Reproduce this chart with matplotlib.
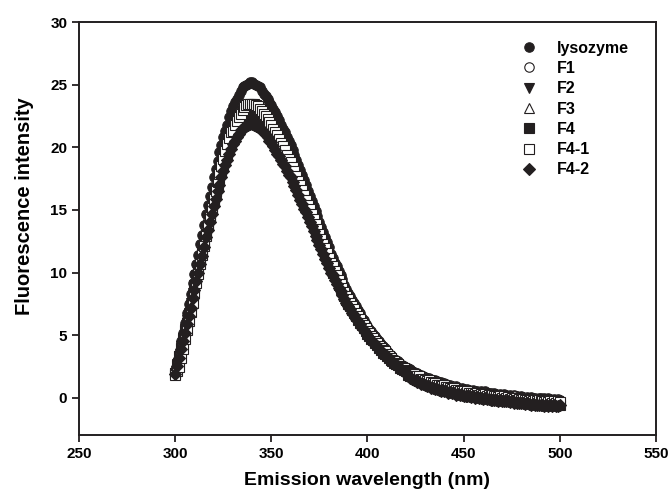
import numpy as np
import matplotlib.pyplot as plt

plt.rcParams['font.family'] = ['Liberation Sans', 'DejaVu Sans']
plt.rcParams['font.weight'] = 'bold'

# emission wavelength (nm), 1 nm steps from 300 to 500
wavelength = np.arange(300, 501)

lysozyme = [
    2.2, 2.9, 3.6, 4.5, 5.2, 6.0, 6.8, 7.5, 8.3, 9.2,
    9.9, 10.7, 11.4, 12.3, 13.0, 13.8, 14.7, 15.4, 16.1, 16.8,
    17.6, 18.3, 18.9, 19.6, 20.2, 20.8, 21.3, 21.8, 22.4, 22.9,
    23.3, 23.6, 23.9, 24.2, 24.5, 24.8, 24.9, 25.0, 25.1, 25.2,
    25.2, 25.1, 25.0, 24.9, 24.8, 24.5, 24.3, 24.1, 23.9, 23.6,
    23.4, 23.1, 22.8, 22.5, 22.2, 21.8, 21.5, 21.2, 20.8, 20.5,
    20.2, 19.8, 19.4, 19.0, 18.6, 18.2, 17.8, 17.4, 17.0, 16.5,
    16.1, 15.7, 15.3, 14.9, 14.5, 14.0, 13.6, 13.2, 12.8, 12.4,
    12.0, 11.5, 11.2, 10.8, 10.5, 10.1, 9.8, 9.5, 9.0, 8.7,
    8.4, 8.1, 7.8, 7.6, 7.3, 7.0, 6.8, 6.4, 6.2, 5.9,
    5.7, 5.5, 5.3, 5.1, 4.9, 4.7, 4.5, 4.3, 4.1, 4.0,
    3.7, 3.5, 3.4, 3.2, 3.1, 3.0, 2.9, 2.7, 2.6, 2.5, 2.4,
    2.35, 2.3, 2.15, 2.05, 2.0, 1.95, 1.8, 1.8, 1.7, 1.65,
    1.6, 1.6, 1.45, 1.4, 1.4, 1.3, 1.25, 1.25, 1.1, 1.2,
    1.1, 1.0, 1.05, 0.95, 0.85, 0.9, 0.8, 0.7, 0.8, 0.7,
    0.6, 0.7, 0.6, 0.55, 0.6, 0.5, 0.55, 0.45, 0.5, 0.4,
    0.5, 0.4, 0.35, 0.4, 0.3, 0.4, 0.3, 0.25, 0.3, 0.2,
    0.3, 0.2, 0.15, 0.2, 0.1, 0.2, 0.1, 0.15, 0.0, 0.1,
    0.05, 0.0, 0.05, -0.05, 0.05, -0.05, 0.0, -0.1, 0.0, -0.05,
    -0.1, -0.05, -0.15, -0.05, -0.1, -0.15, -0.1, -0.2, -0.1, -0.15]
f1 = [
    2.1, 2.8, 3.4, 4.2, 4.9, 5.6, 6.3, 7.0, 7.7, 8.5,
    9.2, 9.9, 10.6, 11.4, 12.1, 12.8, 13.6, 14.2, 14.9, 15.6,
    16.3, 16.9, 17.5, 18.1, 18.6, 19.2, 19.7, 20.2, 20.6, 21.1,
    21.5, 21.8, 22.1, 22.3, 22.6, 22.8, 22.9, 23.0, 23.1, 23.2,
    23.2, 23.1, 23.0, 22.9, 22.8, 22.6, 22.4, 22.2, 22.1, 21.8,
    21.6, 21.3, 21.0, 20.7, 20.4, 20.2, 19.9, 19.6, 19.2, 18.9,
    18.6, 18.3, 18.0, 17.6, 17.2, 16.8, 16.4, 16.1, 15.7, 15.3,
    14.9, 14.5, 14.2, 13.8, 13.4, 13.0, 12.6, 12.3, 11.9, 11.5,
    11.1, 10.7, 10.5, 10.1, 9.8, 9.4, 9.1, 8.8, 8.5, 8.2,
    7.9, 7.6, 7.3, 7.1, 6.9, 6.6, 6.4, 6.1, 5.9, 5.6,
    5.4, 5.2, 5.0, 4.8, 4.6, 4.4, 4.2, 4.0, 3.8, 3.7,
    3.5, 3.3, 3.2, 3.0, 2.9, 2.8, 2.7, 2.55, 2.45, 2.35, 2.25,
    2.25, 2.2, 2.05, 2.0, 1.9, 1.85, 1.75, 1.7, 1.6, 1.6,
    1.5, 1.5, 1.35, 1.3, 1.25, 1.25, 1.15, 1.1, 1.05, 1.1,
    1.0, 0.95, 0.9, 0.9, 0.8, 0.75, 0.7, 0.7, 0.65, 0.6,
    0.55, 0.6, 0.5, 0.5, 0.45, 0.45, 0.4, 0.45, 0.35, 0.35,
    0.35, 0.3, 0.3, 0.3, 0.25, 0.2, 0.2, 0.25, 0.15, 0.1,
    0.15, 0.1, 0.1, 0.05, 0.05, 0.1, 0.0, 0.0, -0.05, -0.05,
    -0.05, 0.0, -0.1, -0.1, -0.1, -0.15, -0.1, -0.15, -0.15, -0.2,
    -0.2, -0.15, -0.2, -0.25, -0.2, -0.25, -0.25, -0.3, -0.2, -0.25]
f2 = [
    2.0, 2.7, 3.3, 4.1, 4.8, 5.5, 6.2, 6.8, 7.6, 8.4,
    9.0, 9.8, 10.5, 11.2, 11.9, 12.6, 13.4, 14.1, 14.7, 15.4,
    16.1, 16.7, 17.3, 17.9, 18.4, 19.0, 19.5, 20.0, 20.4, 20.9,
    21.3, 21.6, 21.9, 22.1, 22.4, 22.6, 22.7, 22.8, 22.9, 23.0,
    23.0, 22.9, 22.8, 22.7, 22.6, 22.4, 22.2, 22.0, 21.9, 21.6,
    21.4, 21.1, 20.8, 20.5, 20.2, 20.0, 19.7, 19.4, 19.0, 18.7,
    18.4, 18.1, 17.8, 17.4, 17.0, 16.6, 16.2, 15.9, 15.5, 15.1,
    14.7, 14.3, 14.0, 13.6, 13.2, 12.8, 12.4, 12.1, 11.7, 11.3,
    10.9, 10.5, 10.3, 9.9, 9.6, 9.2, 8.9, 8.6, 8.3, 8.0,
    7.7, 7.4, 7.1, 6.9, 6.7, 6.4, 6.2, 5.9, 5.7, 5.4,
    5.2, 5.0, 4.8, 4.7, 4.5, 4.3, 4.1, 3.9, 3.7, 3.6,
    3.4, 3.2, 3.1, 2.9, 2.85, 2.75, 2.65, 2.5, 2.4, 2.3, 2.2,
    2.0, 1.9, 1.85, 1.7, 1.65, 1.55, 1.5, 1.45, 1.35, 1.3,
    1.25, 1.2, 1.15, 1.05, 1.0, 1.0, 0.9, 0.85, 0.85, 0.8,
    0.75, 0.7, 0.65, 0.6, 0.6, 0.5, 0.5, 0.45, 0.4, 0.4,
    0.35, 0.3, 0.3, 0.3, 0.2, 0.25, 0.15, 0.2, 0.1, 0.15,
    0.15, 0.05, 0.1, 0.05, 0.05, 0.0, 0.0, 0.05, -0.05, -0.05,
    -0.05, -0.1, -0.05, -0.15, -0.1, -0.15, -0.15, -0.2, -0.15, -0.25,
    -0.2, -0.25, -0.25, -0.3, -0.25, -0.3, -0.35, -0.3, -0.35, -0.35,
    -0.4, -0.35, -0.4, -0.45, -0.35, -0.45, -0.4, -0.5, -0.4, -0.45]
f3 = [
    2.0, 2.7, 3.4, 4.1, 4.8, 5.5, 6.2, 6.8, 7.6, 8.3,
    9.0, 9.7, 10.4, 11.1, 11.8, 12.5, 13.3, 13.9, 14.6, 15.2,
    15.9, 16.5, 17.1, 17.7, 18.2, 18.8, 19.3, 19.7, 20.2, 20.6,
    21.0, 21.3, 21.6, 21.9, 22.1, 22.3, 22.4, 22.5, 22.6, 22.7,
    22.7, 22.6, 22.5, 22.4, 22.3, 22.1, 22.0, 21.8, 21.6, 21.3,
    21.1, 20.8, 20.6, 20.3, 20.0, 19.7, 19.5, 19.2, 18.8, 18.5,
    18.2, 17.9, 17.6, 17.2, 16.8, 16.5, 16.1, 15.7, 15.4, 15.0,
    14.6, 14.2, 13.9, 13.5, 13.1, 12.8, 12.4, 12.0, 11.6, 11.3,
    10.9, 10.5, 10.2, 9.9, 9.6, 9.2, 8.9, 8.7, 8.3, 8.0,
    7.7, 7.5, 7.2, 7.0, 6.7, 6.4, 6.2, 6.0, 5.8, 5.5,
    5.3, 5.1, 4.9, 4.7, 4.5, 4.3, 4.1, 3.9, 3.7, 3.6,
    3.4, 3.3, 3.15, 3.0, 2.9, 2.8, 2.7, 2.5, 2.4, 2.3, 2.2,
    2.25, 2.1, 2.05, 1.85, 1.9, 1.7, 1.75, 1.55, 1.6, 1.45,
    1.5, 1.35, 1.35, 1.2, 1.25, 1.1, 1.15, 1.0, 1.05, 0.95,
    1.0, 0.85, 0.9, 0.75, 0.8, 0.65, 0.7, 0.55, 0.65, 0.5,
    0.55, 0.45, 0.5, 0.4, 0.45, 0.35, 0.4, 0.3, 0.35, 0.25,
    0.35, 0.2, 0.3, 0.15, 0.25, 0.15, 0.2, 0.1, 0.15, 0.05,
    0.15, 0.0, 0.1, -0.05, 0.05, -0.05, 0.0, -0.1, 0.0, -0.15,
    -0.05, -0.15, -0.1, -0.2, -0.1, -0.25, -0.15, -0.25, -0.15, -0.25,
    -0.2, -0.3, -0.2, -0.3, -0.2, -0.35, -0.25, -0.35, -0.25, -0.3]
f4 = [
    2.0, 2.6, 3.3, 4.0, 4.7, 5.4, 6.0, 6.7, 7.4, 8.2,
    8.8, 9.6, 10.2, 11.0, 11.6, 12.4, 13.1, 13.8, 14.4, 15.1,
    15.7, 16.4, 16.9, 17.5, 18.0, 18.6, 19.1, 19.5, 20.0, 20.5,
    20.8, 21.1, 21.4, 21.7, 21.9, 22.1, 22.2, 22.3, 22.4, 22.5,
    22.5, 22.4, 22.3, 22.2, 22.1, 21.9, 21.8, 21.6, 21.4, 21.1,
    20.9, 20.6, 20.4, 20.1, 19.8, 19.5, 19.3, 19.0, 18.6, 18.3,
    18.0, 17.7, 17.4, 17.0, 16.6, 16.3, 15.9, 15.5, 15.2, 14.8,
    14.4, 14.0, 13.7, 13.3, 12.9, 12.6, 12.2, 11.8, 11.4, 11.1,
    10.7, 10.3, 10.0, 9.7, 9.4, 9.0, 8.7, 8.5, 8.1, 7.8,
    7.5, 7.3, 7.0, 6.8, 6.5, 6.2, 6.0, 5.8, 5.6, 5.3,
    5.1, 4.9, 4.7, 4.6, 4.4, 4.2, 4.0, 3.8, 3.6, 3.5,
    3.3, 3.2, 3.05, 2.9, 2.8, 2.7, 2.6, 2.4, 2.3, 2.2, 2.1,
    1.85, 1.75, 1.7, 1.6, 1.5, 1.45, 1.35, 1.3, 1.25, 1.15,
    1.15, 1.05, 1.0, 0.95, 0.9, 0.85, 0.85, 0.75, 0.75, 0.65,
    0.7, 0.6, 0.55, 0.55, 0.45, 0.5, 0.4, 0.35, 0.4, 0.3,
    0.3, 0.25, 0.3, 0.2, 0.2, 0.15, 0.15, 0.1, 0.15, 0.05,
    0.1, 0.0, 0.05, -0.05, 0.0, -0.05, -0.05, -0.1, -0.05, -0.15,
    -0.1, -0.15, -0.15, -0.2, -0.15, -0.25, -0.2, -0.25, -0.3, -0.25,
    -0.3, -0.3, -0.35, -0.3, -0.4, -0.35, -0.4, -0.4, -0.45, -0.4,
    -0.45, -0.5, -0.45, -0.5, -0.45, -0.55, -0.5, -0.55, -0.5, -0.6]
f4_1 = [
    1.8, 2.1, 2.45, 3.15, 3.9, 4.65, 5.4, 6.15, 6.85, 7.6,
    8.4, 9.15, 9.9, 10.65, 11.4, 12.15, 12.9, 13.7, 14.45, 15.15,
    15.85, 16.55, 17.25, 17.9, 18.5, 19.1, 19.7, 20.25, 20.75, 21.25,
    21.3, 21.75, 22.1, 22.4, 22.7, 23.0, 23.2, 23.35, 23.45, 23.5,
    23.5, 23.5, 23.4, 23.3, 23.1, 22.9, 22.7, 22.5, 22.3, 22.0,
    21.8, 21.5, 21.25, 20.95, 20.65, 20.35, 20.1, 19.8, 19.4, 19.1,
    18.8, 18.45, 18.15, 17.75, 17.35, 17.0, 16.6, 16.2, 15.8, 15.4,
    15.05, 14.65, 14.25, 13.85, 13.5, 13.1, 12.7, 12.3, 11.95, 11.55,
    11.15, 10.75, 10.5, 10.1, 9.8, 9.4, 9.1, 8.8, 8.45, 8.15,
    7.85, 7.55, 7.3, 7.1, 6.8, 6.5, 6.3, 6.0, 5.8, 5.55,
    5.35, 5.15, 4.95, 4.75, 4.55, 4.35, 4.15, 4.0, 3.8, 3.7,
    3.5, 3.3, 3.2, 3.0, 2.9, 2.8, 2.7, 2.55, 2.45, 2.35, 2.25,
    2.15, 2.05, 1.95, 1.9, 1.75, 1.7, 1.7, 1.5, 1.5, 1.45,
    1.35, 1.4, 1.25, 1.15, 1.2, 1.05, 1.05, 1.0, 0.9, 1.0,
    0.85, 0.85, 0.8, 0.7, 0.75, 0.6, 0.6, 0.55, 0.5, 0.55,
    0.4, 0.5, 0.4, 0.35, 0.4, 0.3, 0.35, 0.25, 0.3, 0.2,
    0.3, 0.15, 0.2, 0.1, 0.2, 0.1, 0.15, 0.05, 0.1, 0.0,
    0.1, -0.05, 0.05, -0.1, 0.0, -0.1, -0.05, -0.15, -0.1, -0.2,
    -0.1, -0.2, -0.15, -0.25, -0.15, -0.25, -0.2, -0.3, -0.2, -0.3,
    -0.25, -0.35, -0.25, -0.35, -0.3, -0.4, -0.3, -0.4, -0.3, -0.35]
f4_2 = [
    1.9, 2.5, 3.2, 3.9, 4.5, 5.2, 5.9, 6.5, 7.2, 8.0,
    8.6, 9.3, 10.0, 10.7, 11.3, 12.0, 12.8, 13.4, 14.0, 14.7,
    15.3, 15.9, 16.5, 17.0, 17.6, 18.1, 18.6, 19.0, 19.5, 19.9,
    20.3, 20.5, 20.8, 21.1, 21.4, 21.5, 21.6, 21.7, 21.8, 21.9,
    21.9, 21.8, 21.7, 21.6, 21.5, 21.4, 21.2, 21.0, 20.8, 20.5,
    20.4, 20.1, 19.8, 19.5, 19.3, 19.0, 18.7, 18.5, 18.1, 17.8,
    17.6, 17.2, 16.9, 16.6, 16.2, 15.8, 15.5, 15.1, 14.8, 14.4,
    14.0, 13.7, 13.3, 12.9, 12.6, 12.2, 11.9, 11.5, 11.1, 10.8,
    10.4, 10.0, 9.8, 9.4, 9.1, 8.8, 8.5, 8.2, 7.9, 7.6,
    7.3, 7.1, 6.8, 6.6, 6.3, 6.1, 5.9, 5.6, 5.4, 5.2,
    5.0, 4.8, 4.6, 4.4, 4.3, 4.1, 3.9, 3.7, 3.5, 3.4,
    3.3, 3.1, 3.0, 2.8, 2.7, 2.6, 2.5, 2.35, 2.25, 2.15, 2.05,
    1.7, 1.6, 1.5, 1.4, 1.4, 1.25, 1.25, 1.1, 1.1, 1.0,
    0.95, 0.95, 0.8, 0.8, 0.7, 0.7, 0.65, 0.55, 0.6, 0.5,
    0.5, 0.4, 0.45, 0.35, 0.35, 0.25, 0.3, 0.2, 0.25, 0.15,
    0.15, 0.1, 0.15, 0.05, 0.1, 0.0, 0.05, -0.05, 0.0, -0.1,
    -0.05, -0.1, -0.1, -0.15, -0.15, -0.2, -0.15, -0.25, -0.2, -0.3,
    -0.25, -0.3, -0.3, -0.35, -0.3, -0.4, -0.35, -0.4, -0.45, -0.4,
    -0.45, -0.5, -0.45, -0.5, -0.55, -0.5, -0.55, -0.6, -0.55, -0.6,
    -0.6, -0.65, -0.55, -0.65, -0.6, -0.7, -0.6, -0.7, -0.65, -0.6]

series = [lysozyme, f1, f2, f3, f4, f4_1, f4_2]
labels = ['lysozyme', 'F1', 'F2', 'F3', 'F4', 'F4-1', 'F4-2']
markers = ['o', 'o', 'v', '^', 's', 's', 'D']
filled = [True, False, True, False, True, False, True]

ink = '#231f20'

fig = plt.figure(figsize=(6.7, 4.94), dpi=100)
ax = fig.add_axes([0.118, 0.119, 0.861, 0.836])

for y, lab, m, full in zip(series, labels, markers, filled):
    ax.plot(wavelength, y, linestyle='none', marker=m,
            markersize=6.8 if m != 'D' else 6.0,
            markerfacecolor=ink if full else 'white',
            markeredgecolor=ink, markeredgewidth=0.8, label=lab)

ax.set_xlim(250, 550)
ax.set_ylim(-3, 30)
ax.set_xticks(np.arange(250, 551, 50))
ax.set_yticks(np.arange(0, 31, 5))
ax.tick_params(direction='out', length=5, width=1.3, labelsize=11, color=ink)
for side in ax.spines.values():
    side.set_linewidth(1.4)
    side.set_color(ink)

ax.set_xlabel('Emission wavelength (nm)', fontsize=14, fontweight='bold', labelpad=8)
ax.set_ylabel('Fluorescence intensity', fontsize=14.5, fontweight='bold')
ax.yaxis.set_label_coords(-0.078, 0.554)

ax.legend(loc='upper left', bbox_to_anchor=(0.766, 0.955), frameon=False,
          handlelength=1.0, handletextpad=1.25, labelspacing=0.33, borderpad=0,
          borderaxespad=0, prop={'size': 11.5, 'weight': 'bold'})

fig.savefig('out.png', dpi=100)
